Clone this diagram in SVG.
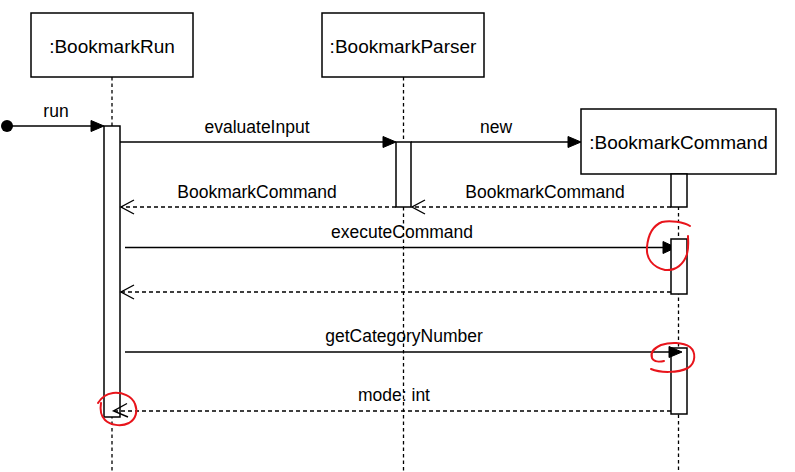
<svg xmlns="http://www.w3.org/2000/svg" width="795" height="472" viewBox="0 0 795 472">
<defs>
<style>
.box{fill:#fff;stroke:#000;stroke-width:1.5}
.act{fill:#fff;stroke:#000;stroke-width:1.5}
.life{stroke:#000;stroke-width:1.3;stroke-dasharray:3.5 3;fill:none}
.msg{stroke:#000;stroke-width:1.5;fill:none}
.ret{stroke:#000;stroke-width:1.3;stroke-dasharray:4 3;fill:none}
.head{fill:#000;stroke:#000;stroke-width:1}
.open{fill:none;stroke:#000;stroke-width:1.4}
.t{font-family:"Liberation Sans",Arial,Helvetica,sans-serif;fill:#000;text-anchor:middle}
.n{font-size:19px}
.l{font-size:17.5px}
.red{fill:none;stroke:#e8141b;stroke-width:2;stroke-linecap:round;stroke-linejoin:round}
</style>
</defs>
<rect width="795" height="472" fill="#fff"/>

<g id="bookmarkRun">
<line class="life" x1="112" y1="77" x2="112" y2="472"/>
<rect class="box" x="31" y="13" width="162" height="64"/>
<text class="t n" x="112" y="53">:BookmarkRun</text>
<rect class="act" x="104" y="126" width="16" height="291"/>
</g>

<g id="bookmarkParser">
<line class="life" x1="403.5" y1="77" x2="403.5" y2="472"/>
<rect class="box" x="322" y="13" width="162" height="64"/>
<text class="t n" x="403" y="53">:BookmarkParser</text>
<rect class="act" x="396" y="142" width="15" height="65"/>
</g>

<g id="bookmarkCommand">
<line class="life" x1="678.5" y1="174" x2="678.5" y2="472"/>
<rect class="box" x="581" y="109" width="195" height="65"/>
<text class="t n" x="678.5" y="149">:BookmarkCommand</text>
<rect class="act" x="671" y="174" width="16" height="33"/>
</g>

<g id="connectors">
<!-- run -->
<circle cx="7" cy="126" r="6" fill="#000"/>
<line class="msg" x1="7" y1="126" x2="92" y2="126"/>
<polygon class="head" points="91,120.5 104,126 91,131.5"/>
<text class="t l" x="56" y="117">run</text>

<!-- evaluateInput -->
<line class="msg" x1="120" y1="142" x2="384" y2="142"/>
<polygon class="head" points="383,136.5 396,142 383,147.5"/>
<text class="t l" x="257" y="133">evaluateInput</text>

<!-- new -->
<line class="msg" x1="411" y1="142" x2="569" y2="142"/>
<polygon class="head" points="568,136.5 581,142 568,147.5"/>
<text class="t l" x="496" y="133">new</text>

<!-- return BookmarkCommand (command -> parser) -->
<line class="ret" x1="671" y1="207" x2="412" y2="207"/>
<polyline class="open" points="425,200 412,207 425,214"/>
<text class="t l" x="545" y="198">BookmarkCommand</text>

<!-- return BookmarkCommand (parser -> run) -->
<line class="ret" x1="396" y1="207" x2="121" y2="207"/>
<polyline class="open" points="134,200 121,207 134,214"/>
<text class="t l" x="257" y="198">BookmarkCommand</text>

<!-- executeCommand -->
<line class="msg" x1="125" y1="247.5" x2="664" y2="247.5"/>
<polygon class="head" points="663,241.5 676,247.5 663,253.5"/>
<g id="execAct"><rect class="act" x="671" y="239" width="16" height="55"/></g>
<text class="t l" x="402" y="238">executeCommand</text>

<!-- return (command -> run) -->
<line class="ret" x1="671" y1="292" x2="121" y2="292"/>
<polyline class="open" points="134,285 121,292 134,299"/>

<!-- getCategoryNumber -->
<g id="catAct"><rect class="act" x="671" y="348" width="16" height="66"/></g>
<line class="msg" x1="125" y1="352" x2="670" y2="352"/>
<polygon class="head" points="669,346.5 682,352 669,357.5"/>
<text class="t l" x="404" y="342">getCategoryNumber</text>

<!-- mode: int -->
<line class="ret" x1="671" y1="411" x2="114" y2="411"/>
<polyline class="open" points="127,403.5 113.5,411 128,417"/>
<text class="t l" x="394" y="401">mode: int</text>
</g>

<g id="annotations">
<path class="red" d="M690,226 C684,222 670,220 662,222 C652,226 648,236 647,247 C646,258 652,267 665,270 C676,271 684,264 687,254 C689,247 688,241 688,236"/>
<path class="red" d="M651,369 C660,373 678,373 688,368 C696,363 696,352 690,347 C683,342 670,342 661,345 C654,348 650,352 652,358 C654,362 660,362 664,361"/>
<path class="red" d="M98,403 C101,398 106,394 113,393 C122,392 132,396 135,404 C138,411 136,419 129,423 C121,427 110,425 105,420 C101,416 100,409 101,403"/>
</g>
</svg>
